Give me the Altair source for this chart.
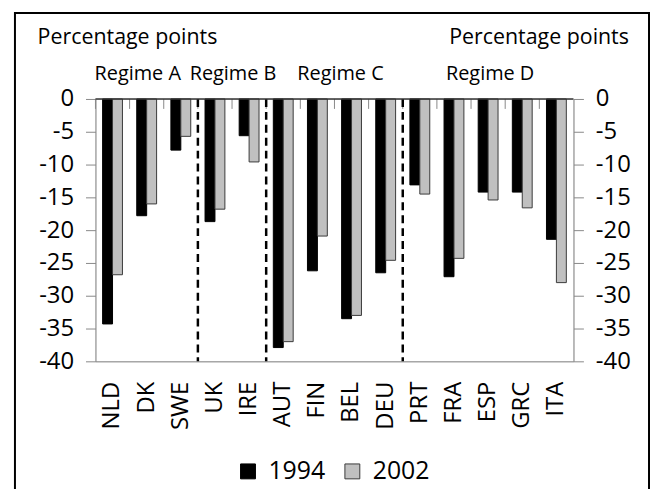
import altair as alt
import pandas as pd

# ---- data ----
countries = ["NLD", "DK", "SWE", "UK", "IRE", "AUT", "FIN", "BEL", "DEU",
             "PRT", "FRA", "ESP", "GRC", "ITA"]
years = ["1994", "2002"]
v1994 = [-34.3, -17.8, -7.8, -18.7, -5.6, -37.9, -26.2, -33.5, -26.5,
         -13.1, -27.1, -14.2, -14.2, -21.4]
v2002 = [-26.8, -16.0, -5.7, -16.8, -9.6, -37.0, -20.9, -33.0, -24.6,
         -14.5, -24.3, -15.4, -16.6, -28.0]
y_ticks = [0, -5, -10, -15, -20, -25, -30, -35, -40]
regimes = ["Regime A", "Regime B", "Regime C", "Regime D"]
regime_members = [["NLD", "DK", "SWE"], ["UK", "IRE"],
                  ["AUT", "FIN", "BEL", "DEU"],
                  ["PRT", "FRA", "ESP", "GRC", "ITA"]]
axis_title = "Percentage points"

# ---- styling ----
W, H = 481, 264
FONT = "Open Sans"
regime_dx = [-9, 1, 6, 2]

df = pd.DataFrame({
    "country": countries * 2,
    "year": [years[0]] * len(countries) + [years[1]] * len(countries),
    "value": v1994 + v2002,
})

xscale = alt.Scale(domain=countries, paddingInner=0, paddingOuter=0)
yscale = alt.Scale(domain=[min(y_ticks), max(y_ticks)], nice=False)
label_expr = "datum.value < 0 ? '-' + abs(datum.value) : '0'"

common_y_axis = dict(
    values=y_ticks, grid=False, labelExpr=label_expr,
    labelFontSize=24, labelFont=FONT, labelColor="black",
    tickSize=10, tickColor="#888888", domainColor="#888888",
    labelPadding=12, title=axis_title, titleAngle=0,
    titleFontSize=21.5, titleFont=FONT, titleFontWeight="normal",
    titleColor="black", titleBaseline="alphabetic", titleY=-55.6,
)

x_axis = alt.Axis(orient="bottom", labelAngle=270, labelAlign="right",
                  labelBaseline="middle", labelPadding=20, ticks=False,
                  domainColor="#888888", labelFontSize=24, labelFont=FONT,
                  labelColor="black", title=None)

# outer frame
frame = alt.Chart(pd.DataFrame({"f": [0]})).mark_rect(
    fill="white", fillOpacity=0, stroke="black", strokeWidth=2
).encode(
    x=alt.value(-81), x2=alt.value(557), y=alt.value(-86.5), y2=alt.value(400)
)

bars = alt.Chart(df).mark_bar(strokeWidth=1).encode(
    x=alt.X("country:N", scale=xscale, title=None, axis=x_axis),
    xOffset=alt.XOffset("year:N", scale=alt.Scale(domain=years, paddingInner=0,
                                                   paddingOuter=0.72)),
    y=alt.Y("value:Q", scale=yscale,
            axis=alt.Axis(orient="left", titleX=-58.7, titleAlign="left",
                          **common_y_axis)),
    color=alt.Color("year:N", scale=alt.Scale(domain=years, range=["#000000", "#c0c0c0"]),
                    legend=alt.Legend(orient="none", legendX=141, legendY=362,
                                      direction="horizontal", title=None,
                                      symbolType="square", symbolSize=225,
                                      labelFontSize=25, labelFont=FONT,
                                      labelColor="black", labelOffset=8,
                                      columnPadding=14, symbolStrokeColor="#333333",
                                      symbolStrokeWidth=1)),
    stroke=alt.Stroke("year:N", scale=alt.Scale(domain=years, range=["#000000", "#3a3a3a"]),
                      legend=None),
)

zero_line = alt.Chart(pd.DataFrame({"v": [0]})).mark_rule(
    color="#333333", strokeWidth=1.5
).encode(
    y=alt.Y("v:Q", scale=yscale,
            axis=alt.Axis(orient="right", titleX=55.3, titleAlign="right",
                          **common_y_axis)),
)

top_ticks = alt.Chart(pd.DataFrame({"country": countries})).mark_rule(
    color="#888888", strokeWidth=1
).encode(
    x=alt.X("country:N", scale=xscale, bandPosition=0, title=None, axis=x_axis),
    y=alt.value(0), y2=alt.value(10),
)

boundaries = [m[0] for m in regime_members[1:]]
dashes = alt.Chart(pd.DataFrame({"country": boundaries})).mark_rule(
    color="black", strokeWidth=2.5, strokeDash=[8, 5]
).encode(
    x=alt.X("country:N", scale=xscale, bandPosition=0, title=None, axis=x_axis),
    y=alt.value(0), y2=alt.value(H),
)

regime_layers = []
for name, members, dx in zip(regimes, regime_members, regime_dx):
    n = len(members)
    anchor = members[n // 2]
    bp = 0.5 if n % 2 else 0.0
    regime_layers.append(
        alt.Chart(pd.DataFrame({"country": [anchor], "label": [name]})).mark_text(
            fontSize=20, font=FONT, color="black", dx=dx,
            baseline="alphabetic", align="center"
        ).encode(
            x=alt.X("country:N", scale=xscale, bandPosition=bp, title=None, axis=x_axis),
            y=alt.value(-19),
            text="label:N",
        )
    )

chart = alt.layer(
    frame, bars, top_ticks, dashes, zero_line, *regime_layers
).resolve_scale(
    y="independent"
).properties(
    width=W, height=H,
    padding={"left": 6, "top": 2, "right": 0, "bottom": 0},
).configure_view(
    stroke="transparent"
).configure(
    font=FONT
)

chart.save("out.html", embed_options={"renderer": "svg", "actions": False})
